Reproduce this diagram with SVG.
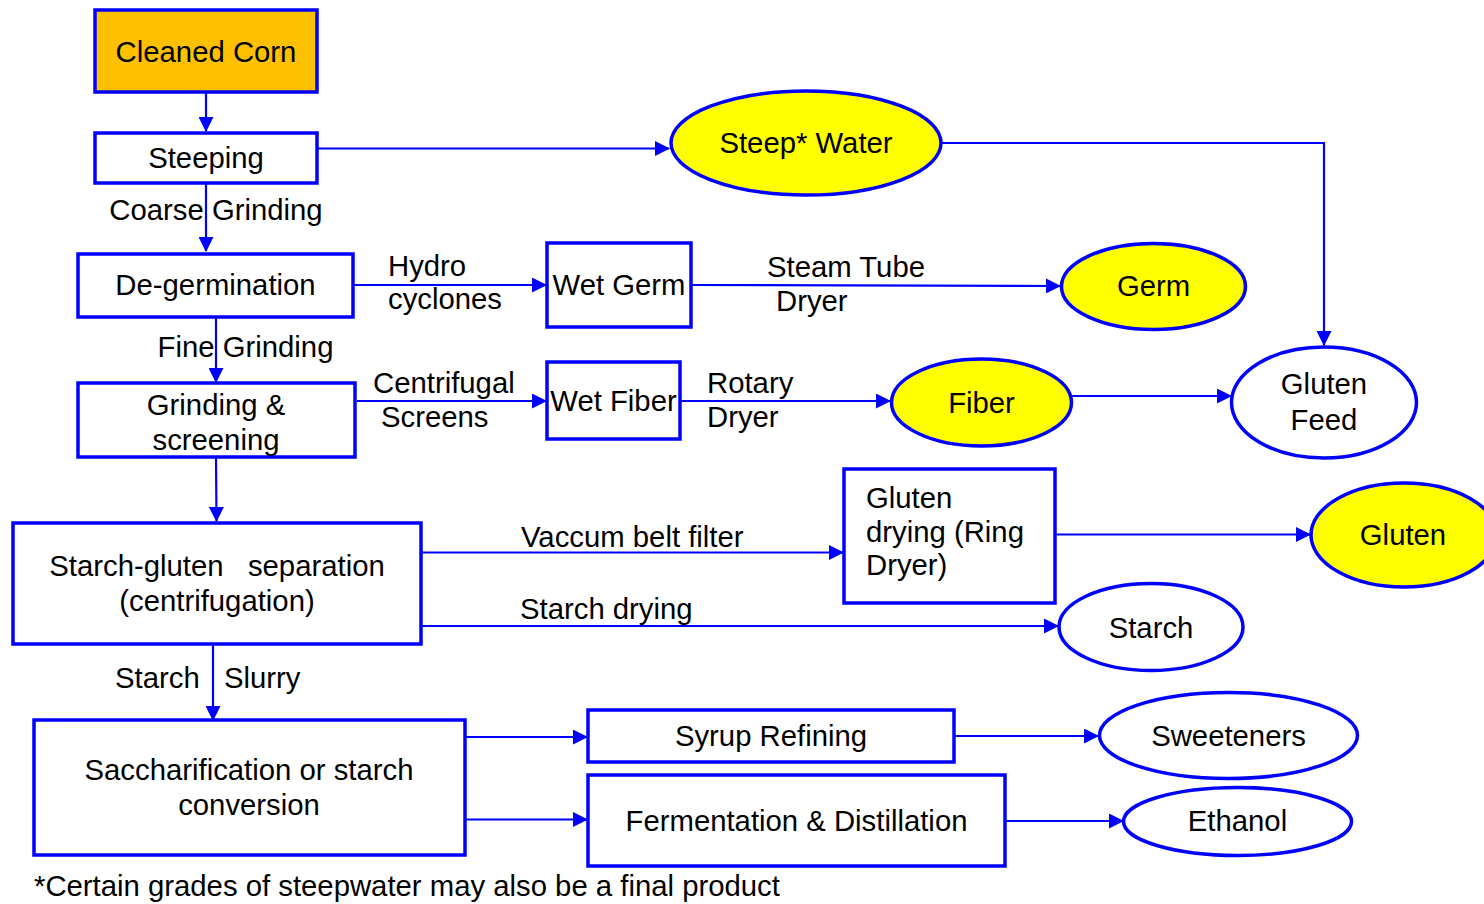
<svg xmlns="http://www.w3.org/2000/svg" width="1484" height="904" viewBox="0 0 1484 904">
<style>
text{font-family:"Liberation Sans",Arial,sans-serif;font-size:29.3px;fill:#000}
.c{text-anchor:middle}
.box{fill:#fff;stroke:#0000FF;stroke-width:3.5}
.orange{fill:#FFC000}
.ell{fill:#fff;stroke:#0000FF;stroke-width:3.5}
.yel{fill:#FFFF00}
.ln{fill:none;stroke:#0000FF;stroke-width:2.2}
.ar{marker-end:url(#ah)}
</style>
<defs>
<marker id="ah" markerUnits="userSpaceOnUse" markerWidth="15" markerHeight="15" refX="14" refY="7.5" orient="auto">
<path d="M0,0 L15,7.5 L0,15 z" fill="#0000FF"/>
</marker>
</defs>
<rect width="1484" height="904" fill="#fff"/>
<g id="connectors">
<line class="ln ar" x1="206" y1="92" x2="206" y2="131"/>
<line class="ln ar" x1="317" y1="148.5" x2="669" y2="148.5"/>
<polyline class="ln ar" points="941,143 1324,143 1324,345"/>
<line class="ln ar" x1="206" y1="183" x2="206" y2="251"/>
<line class="ln ar" x1="353" y1="285" x2="546" y2="285"/>
<line class="ln ar" x1="691" y1="285" x2="1060" y2="286"/>
<line class="ln ar" x1="216" y1="317" x2="216" y2="382"/>
<line class="ln ar" x1="357" y1="401" x2="546" y2="401"/>
<line class="ln ar" x1="680" y1="401" x2="890" y2="401"/>
<line class="ln ar" x1="1071" y1="396" x2="1231" y2="396"/>
<line class="ln ar" x1="216" y1="457" x2="216.5" y2="521"/>
<line class="ln ar" x1="421" y1="552.5" x2="843" y2="552.5"/>
<line class="ln ar" x1="1055" y1="534.5" x2="1310" y2="534.5"/>
<line class="ln ar" x1="421" y1="626" x2="1058" y2="626"/>
<line class="ln ar" x1="213" y1="644" x2="213" y2="720"/>
<line class="ln ar" x1="465" y1="737" x2="587" y2="737"/>
<line class="ln ar" x1="465" y1="819.5" x2="587" y2="819.5"/>
<line class="ln ar" x1="954" y1="736" x2="1098" y2="736"/>
<line class="ln ar" x1="1005" y1="821" x2="1123" y2="821"/>
</g>
<g id="cleaned-corn"><rect class="box orange" x="95" y="10" width="222" height="82"/><text class="c" x="206" y="62">Cleaned Corn</text></g>
<g id="steeping"><rect class="box" x="95" y="133" width="222" height="50"/><text class="c" x="206" y="168">Steeping</text></g>
<g id="lbl-coarse"><text class="c" x="216" y="220">Coarse Grinding</text></g>
<g id="degermination"><rect class="box" x="78" y="254" width="275" height="63"/><text class="c" x="215.5" y="295">De-germination</text></g>
<g id="lbl-hydro"><text x="388" y="276">Hydro</text><text x="388" y="309">cyclones</text></g>
<g id="wet-germ"><rect class="box" x="547" y="243" width="144" height="84"/><text class="c" x="619" y="295">Wet Germ</text></g>
<g id="lbl-steam"><text x="767" y="277">Steam Tube</text><text x="776" y="311">Dryer</text></g>
<g id="steep-water"><ellipse class="ell yel" cx="806" cy="143" rx="135" ry="52"/><text class="c" x="806" y="153">Steep* Water</text></g>
<g id="germ"><ellipse class="ell yel" cx="1153.5" cy="286.5" rx="92" ry="43"/><text class="c" x="1153.5" y="296">Germ</text></g>
<g id="lbl-fine"><text class="c" x="245.5" y="357">Fine Grinding</text></g>
<g id="grinding-screening"><rect class="box" x="78" y="383" width="277" height="74"/><text class="c" x="216" y="415">Grinding &amp;</text><text class="c" x="216" y="450">screening</text></g>
<g id="lbl-centrifugal"><text x="373" y="393">Centrifugal</text><text x="381" y="427">Screens</text></g>
<g id="wet-fiber"><rect class="box" x="547" y="362" width="133" height="77"/><text class="c" x="613.5" y="411">Wet Fiber</text></g>
<g id="lbl-rotary"><text x="707" y="393">Rotary</text><text x="707" y="427">Dryer</text></g>
<g id="fiber"><ellipse class="ell yel" cx="981.5" cy="402.5" rx="90" ry="43.5"/><text class="c" x="981.5" y="413">Fiber</text></g>
<g id="gluten-feed"><ellipse class="ell" cx="1324" cy="402.5" rx="92.5" ry="55.5"/><text class="c" x="1324" y="394">Gluten</text><text class="c" x="1324" y="430">Feed</text></g>
<g id="starch-gluten"><rect class="box" x="13" y="523" width="408" height="121"/><text class="c" x="217" y="576" xml:space="preserve">Starch-gluten   separation</text><text class="c" x="217" y="611">(centrifugation)</text></g>
<g id="lbl-vaccum"><text x="521" y="547">Vaccum belt filter</text></g>
<g id="gluten-drying"><rect class="box" x="844" y="469" width="211" height="134"/><text x="866" y="508">Gluten</text><text x="866" y="542">drying (Ring</text><text x="866" y="575">Dryer)</text></g>
<g id="gluten"><ellipse class="ell yel" cx="1404" cy="535" rx="93" ry="52"/><text class="c" x="1403" y="545">Gluten</text></g>
<g id="lbl-starch-drying"><text x="520" y="619">Starch drying</text></g>
<g id="starch"><ellipse class="ell" cx="1151" cy="627" rx="92" ry="43.5"/><text class="c" x="1151" y="638">Starch</text></g>
<g id="lbl-slurry"><text x="115" y="688">Starch</text><text x="224" y="688">Slurry</text></g>
<g id="saccharification"><rect class="box" x="34" y="720" width="431" height="135"/><text class="c" x="249" y="780">Saccharification or starch</text><text class="c" x="249" y="815">conversion</text></g>
<g id="syrup-refining"><rect class="box" x="588" y="710" width="366" height="52"/><text class="c" x="771" y="746">Syrup Refining</text></g>
<g id="fermentation"><rect class="box" x="588" y="775" width="417" height="91"/><text class="c" x="796.5" y="831">Fermentation &amp; Distillation</text></g>
<g id="sweeteners"><ellipse class="ell" cx="1228.5" cy="735.5" rx="129" ry="43"/><text class="c" x="1228.5" y="746">Sweeteners</text></g>
<g id="ethanol"><ellipse class="ell" cx="1237.5" cy="821.5" rx="114" ry="34"/><text class="c" x="1237.5" y="831">Ethanol</text></g>
<g id="footnote"><text x="34" y="896">*Certain grades of steepwater may also be a final product</text></g>
</svg>
